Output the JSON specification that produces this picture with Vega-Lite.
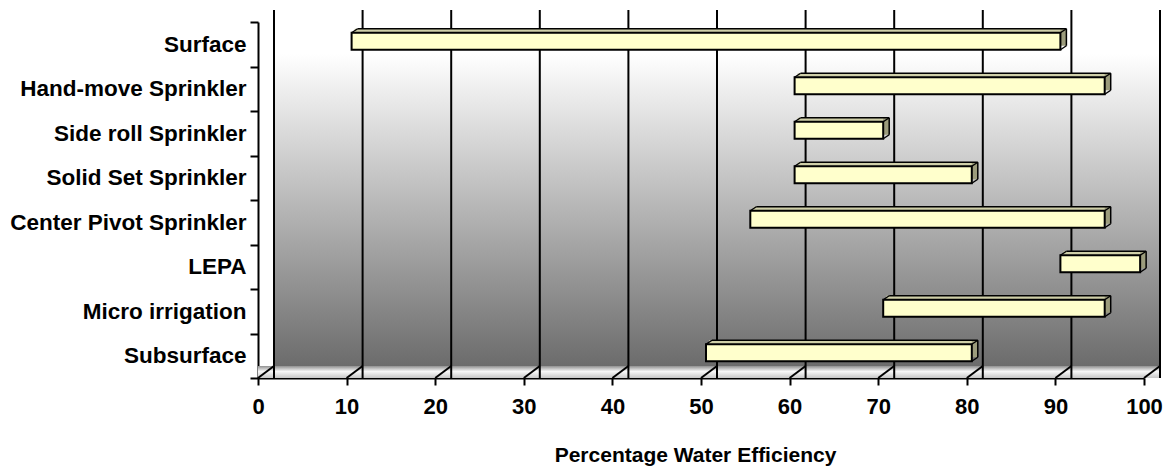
{
  "$schema": "https://vega.github.io/schema/vega-lite/v6.json",
  "width": 886,
  "height": 356,
  "autosize": {"type": "none"},
  "padding": {"left": 258, "top": 22, "right": 30, "bottom": 90},
  "background": "white",
  "config": {
    "view": {"stroke": null},
    "font": "Liberation Sans",
    "axis": {
      "domainColor": "black", "domainWidth": 2, "tickColor": "black", "tickWidth": 2,
      "labelColor": "black", "labelFont": "Liberation Sans", "labelFontWeight": "bold", "labelFontSize": 22,
      "grid": false, "titleFont": "Liberation Sans", "titleFontWeight": "bold", "titleFontSize": 21, "titleColor": "black"
    },
    "axisX": {"tickSize": 7, "labelPadding": 11, "titlePadding": 27, "tickCount": 10, "labelFlush": false, "titleX": 437},
    "axisY": {"tickSize": 8, "labelPadding": 4, "tickBand": "extent", "labelLimit": 0, "labelFontSize": 22.5}
  },
  "datasets": {
    "bars": [
      {"method": "Surface", "start": 10, "end": 90},
      {"method": "Hand-move Sprinkler", "start": 60, "end": 95},
      {"method": "Side roll Sprinkler", "start": 60, "end": 70},
      {"method": "Solid Set Sprinkler", "start": 60, "end": 80},
      {"method": "Center Pivot Sprinkler", "start": 55, "end": 95},
      {"method": "LEPA", "start": 90, "end": 99},
      {"method": "Micro irrigation", "start": 70, "end": 95},
      {"method": "Subsurface", "start": 50, "end": 80}
    ],
    "wall": [{"lo": 0, "hi": 100}],
    "grid": [{"v": 0}, {"v": 10}, {"v": 20}, {"v": 30}, {"v": 40}, {"v": 50}, {"v": 60}, {"v": 70}, {"v": 80}, {"v": 90}, {"v": 100}]
  },
  "layer": [
    {
      "data": {"name": "wall"},
      "mark": {
        "type": "rect",
        "color": {"gradient": "linear", "x1": 0, "y1": 0, "x2": 0, "y2": 1,
          "stops": [{"offset": 0, "color": "#ffffff"}, {"offset": 0.12, "color": "#ffffff"}, {"offset": 0.55, "color": "#b4b4b4"}, {"offset": 1, "color": "#666666"}]},
        "xOffset": 16, "x2Offset": 16, "yOffset": -12, "y2Offset": -12
      },
      "encoding": {
        "x": {"field": "lo", "type": "quantitative", "scale": {"domain": [0, 100], "nice": false}, "title": "Percentage Water Efficiency"},
        "x2": {"field": "hi"}
      }
    },
    {
      "data": {"name": "wall"},
      "mark": {
        "type": "rect",
        "color": {"gradient": "linear", "x1": 0, "y1": 0, "x2": 0, "y2": 1,
          "stops": [{"offset": 0, "color": "#909090"}, {"offset": 0.45, "color": "#f8f8f8"}, {"offset": 1, "color": "#c8c8c8"}]},
        "x2Offset": 16, "yOffset": 344
      },
      "encoding": {
        "x": {"field": "lo", "type": "quantitative", "title": "Percentage Water Efficiency"},
        "x2": {"field": "hi"}
      }
    },
    {
      "data": {"name": "grid"},
      "mark": {"type": "rule", "color": "black", "strokeWidth": 2, "xOffset": 16, "yOffset": -12, "y2Offset": -12},
      "encoding": {
        "x": {"field": "v", "type": "quantitative", "title": "Percentage Water Efficiency"}
      }
    },
    {
      "data": {"name": "grid"},
      "mark": {"type": "rule", "color": "black", "strokeWidth": 2, "x2Offset": 16, "y2Offset": 10.25},
      "encoding": {
        "x": {"field": "v", "type": "quantitative", "title": "Percentage Water Efficiency"},
        "x2": {"field": "v"},
        "y": {"datum": "Subsurface", "type": "nominal", "bandPosition": 1, "title": null},
        "y2": {"datum": "Subsurface"}
      }
    },
    {
      "data": {"name": "bars"},
      "layer": [
        {"mark": {"type": "bar", "size": 17, "fill": "#9c9c7c", "xOffset": 11, "x2Offset": 11, "yOffset": -7}},
        {"mark": {"type": "bar", "size": 17, "fill": "#cfcfa8", "xOffset": 8, "x2Offset": 5, "yOffset": -7}}
      ],
      "encoding": {
        "x": {"field": "start", "type": "quantitative", "title": "Percentage Water Efficiency"},
        "x2": {"field": "end"},
        "y": {"field": "method", "type": "nominal", "sort": null, "title": null,
          "scale": {"domain": ["Surface", "Hand-move Sprinkler", "Side roll Sprinkler", "Solid Set Sprinkler", "Center Pivot Sprinkler", "LEPA", "Micro irrigation", "Subsurface"], "paddingInner": 0, "paddingOuter": 0}}
      }
    },
    {
      "data": {"name": "bars"},
      "mark": {"type": "rule", "color": "black", "strokeWidth": 1.5, "xOffset": 11, "x2Offset": 11, "yOffset": -15.5},
      "encoding": {
        "x": {"field": "start", "type": "quantitative", "title": "Percentage Water Efficiency"},
        "x2": {"field": "end"},
        "y": {"field": "method", "type": "nominal", "sort": null, "title": null}
      }
    },
    {
      "data": {"name": "bars"},
      "mark": {"type": "rule", "color": "black", "strokeWidth": 1.5, "xOffset": 11, "yOffset": -15.5, "y2Offset": 1.5},
      "encoding": {
        "x": {"field": "end", "type": "quantitative", "title": "Percentage Water Efficiency"},
        "y": {"field": "method", "type": "nominal", "sort": null, "title": null},
        "y2": {"field": "method"}
      }
    },
    {
      "data": {"name": "bars"},
      "mark": {"type": "rule", "color": "black", "strokeWidth": 1.5, "xOffset": 5, "x2Offset": 11, "yOffset": -11.5, "y2Offset": -15.5},
      "encoding": {
        "x": {"field": "start", "type": "quantitative", "title": "Percentage Water Efficiency"},
        "x2": {"field": "start"},
        "y": {"field": "method", "type": "nominal", "sort": null, "title": null},
        "y2": {"field": "method"}
      }
    },
    {
      "data": {"name": "bars"},
      "mark": {"type": "rule", "color": "black", "strokeWidth": 1.5, "xOffset": 5, "x2Offset": 11, "yOffset": -11.5, "y2Offset": -15.5},
      "encoding": {
        "x": {"field": "end", "type": "quantitative", "title": "Percentage Water Efficiency"},
        "x2": {"field": "end"},
        "y": {"field": "method", "type": "nominal", "sort": null, "title": null},
        "y2": {"field": "method"}
      }
    },
    {
      "data": {"name": "bars"},
      "mark": {"type": "rule", "color": "black", "strokeWidth": 1.5, "xOffset": 5, "x2Offset": 11, "yOffset": 5.5, "y2Offset": 1.5},
      "encoding": {
        "x": {"field": "end", "type": "quantitative", "title": "Percentage Water Efficiency"},
        "x2": {"field": "end"},
        "y": {"field": "method", "type": "nominal", "sort": null, "title": null},
        "y2": {"field": "method"}
      }
    },
    {
      "data": {"name": "bars"},
      "mark": {"type": "bar", "size": 17, "fill": "#ffffcc", "stroke": "black", "strokeWidth": 2, "xOffset": 5, "x2Offset": 5, "yOffset": -3},
      "encoding": {
        "x": {"field": "start", "type": "quantitative", "title": "Percentage Water Efficiency"},
        "x2": {"field": "end"},
        "y": {"field": "method", "type": "nominal", "sort": null, "title": null}
      }
    }
  ]
}
